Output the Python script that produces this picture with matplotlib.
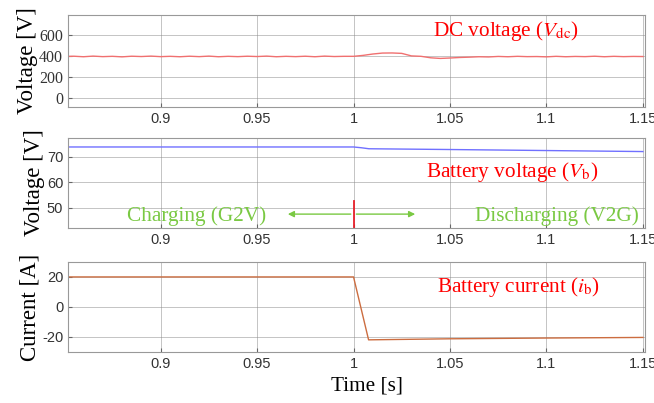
import numpy as np
import matplotlib
matplotlib.use("Agg")
import matplotlib.pyplot as plt

plt.rcParams["mathtext.fontset"] = "stix"

# ── DANE ─────────────────────────────────────────────────────────────────────
t_dc = [0.850, 0.855, 0.860, 0.865, 0.870, 0.875, 0.880, 0.885, 0.890, 0.895,
        0.900, 0.905, 0.910, 0.915, 0.920, 0.925, 0.930, 0.935, 0.940, 0.945,
        0.950, 0.955, 0.960, 0.965, 0.970, 0.975, 0.980, 0.985, 0.990, 0.995,
        1.000, 1.005, 1.010, 1.015, 1.020, 1.025, 1.030, 1.035, 1.040, 1.045,
        1.050, 1.055, 1.060, 1.065, 1.070, 1.075, 1.080, 1.085, 1.090, 1.095,
        1.100, 1.105, 1.110, 1.115, 1.120, 1.125, 1.130, 1.135, 1.140, 1.145,
        1.150]
v_dc = [394, 397, 392, 398, 393, 396, 391, 397, 394, 398,
        393, 396, 392, 397, 393, 398, 392, 396, 393, 397,
        394, 398, 392, 396, 393, 397, 392, 398, 394, 396,
        396, 405, 418, 427, 428, 424, 400, 396, 382, 376,
        380, 385, 388, 392, 390, 395, 392, 396, 393, 394,
        391, 396, 392, 395, 393, 397, 392, 396, 393, 395,
        394]

t_b = [0.850, 0.900, 0.950, 1.000, 1.004, 1.008, 1.050, 1.100, 1.150]
v_b = [73.9, 73.9, 73.9, 73.9, 73.6, 73.2, 72.9, 72.5, 72.1]

t_i = [0.850, 0.900, 0.950, 1.000, 1.0078, 1.050, 1.100, 1.150]
i_b = [20.0, 20.0, 20.0, 20.0, -22.0, -21.3, -20.8, -20.4]

x_ticks = [0.9, 0.95, 1.0, 1.05, 1.1, 1.15]
x_labels = ["0.9", "0.95", "1", "1.05", "1.1", "1.15"]

# ── WYKRES ───────────────────────────────────────────────────────────────────
fig = plt.figure(figsize=(6.54, 4.03), dpi=100)
ax1 = fig.add_axes([0.104, 0.734, 0.882, 0.229])
ax2 = fig.add_axes([0.104, 0.434, 0.882, 0.224])
ax3 = fig.add_axes([0.104, 0.127, 0.882, 0.223])

SERIF = ["Liberation Serif", "DejaVu Serif"]
SANS = ["Liberation Sans", "DejaVu Sans"]
GREEN = "#7ac943"

for ax in (ax1, ax2, ax3):
    ax.set_xlim(0.852, 1.151)
    ax.set_xticks(x_ticks)
    ax.set_xticklabels(x_labels, family=SANS, fontsize=10.5, color="#333333")
    ax.grid(True, color="#888888", linewidth=0.7, alpha=0.5)
    ax.tick_params(axis="both", length=3, color="#666666", direction="in",
                   labelsize=10.5, labelcolor="#333333")
    for sp in ax.spines.values():
        sp.set_color("#999999")
        sp.set_linewidth(0.8)

# panel 1 - napiecie DC
ax1.plot(t_dc, v_dc, color="#f07070", linewidth=1.0)
ax1.set_ylim(-88, 790)
ax1.set_yticks([0, 200, 400, 600])
ax1.set_yticklabels(["0", "200", "400", "600"], family=SERIF, fontsize=11.5)
ax1.set_ylabel("Voltage [V]", family=SERIF, fontsize=16.5, labelpad=1)
ax1.text(1.079, 640, r"DC voltage ($V_{\mathrm{dc}}$)", color="red",
         family=SERIF, fontsize=15.3, ha="center", va="center")

# panel 2 - napiecie baterii
ax2.plot(t_b, v_b, color="#7070ff", linewidth=1.0)
ax2.set_ylim(42, 77.5)
ax2.set_yticks([50, 60, 70])
ax2.set_yticklabels(["50", "60", "70"], family=SANS, fontsize=10.5)
ax2.set_ylabel("Voltage [V]", family=SERIF, fontsize=16.5, labelpad=1)
ax2.text(1.082, 64.2, r"Battery voltage ($V_{\mathrm{b}}$)", color="red",
         family=SERIF, fontsize=15.3, ha="center", va="center")
ax2.text(0.9188, 46.8, "Charging (G2V)", color=GREEN,
         family=SERIF, fontsize=15.3, ha="center", va="center")
ax2.text(1.1054, 46.8, "Discharging (V2G)", color=GREEN,
         family=SERIF, fontsize=15.3, ha="center", va="center")
ax2.annotate("", xy=(0.9645, 47.5), xytext=(1.0, 47.5),
             arrowprops=dict(arrowstyle="-|>", color=GREEN, lw=1.0,
                             mutation_scale=9))
ax2.annotate("", xy=(1.0334, 47.5), xytext=(1.0, 47.5),
             arrowprops=dict(arrowstyle="-|>", color=GREEN, lw=1.0,
                             mutation_scale=9))
ax2.plot([1.0, 1.0], [42, 52.5], color="#e8202a", linewidth=1.3)

# panel 3 - prad baterii
ax3.plot(t_i, i_b, color="#cc6d40", linewidth=1.0)
ax3.set_ylim(-30, 30)
ax3.set_yticks([-20, 0, 20])
ax3.set_yticklabels(["-20", "0", "20"], family=SANS, fontsize=10.5)
ax3.set_ylabel("Current [A]", family=SERIF, fontsize=16.5, labelpad=1)
ax3.text(1.0857, 13, r"Battery current ($i_{\mathrm{b}}$)", color="red",
         family=SERIF, fontsize=15.3, ha="center", va="center")
ax3.set_xlabel("Time [s]", family=SERIF, fontsize=15.3)
ax3.xaxis.set_label_coords(0.518, -0.28)

fig.savefig("out.png", dpi=100, facecolor="white")
